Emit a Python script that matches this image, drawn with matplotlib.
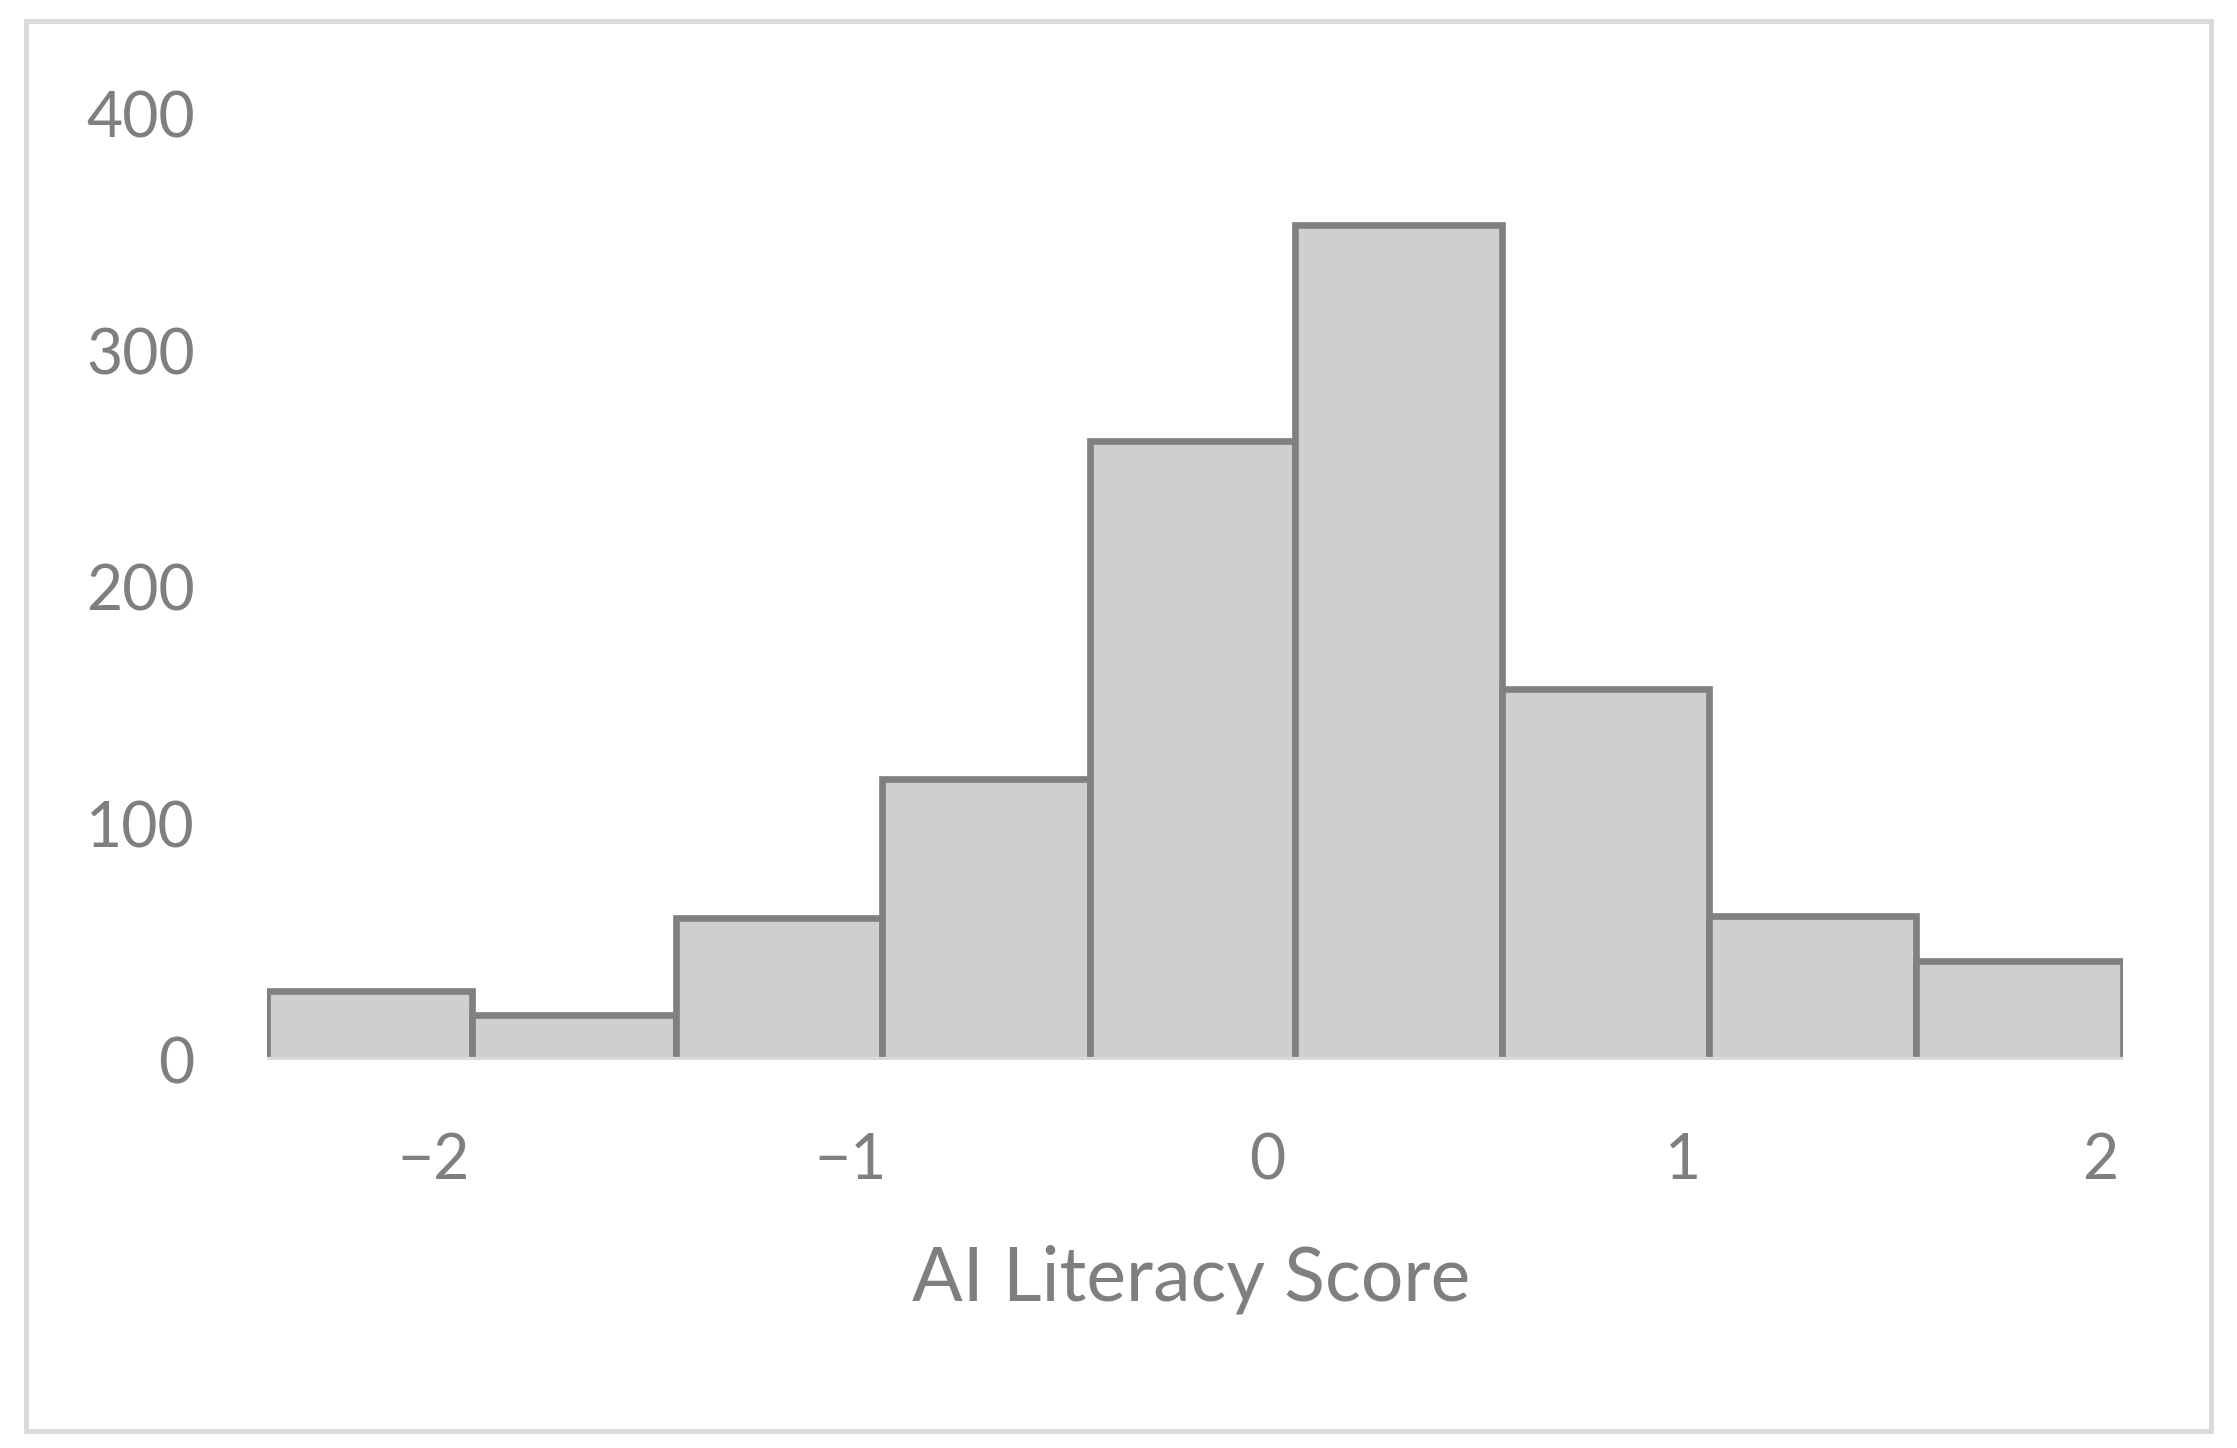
import numpy as np
import matplotlib.pyplot as plt
from matplotlib.patches import Rectangle

# histogram bins
bin_edges = [-2.401, -1.908, -1.418, -0.925, -0.425, 0.068, 0.565, 1.062, 1.558, 2.055]
counts = [29, 19, 60, 119, 262, 353, 157, 61, 42]
x_ticks = [-2, -1, 0, 1, 2]
x_tick_labels = ["\u22122", "\u22121", "0", "1", "2"]
y_ticks = [0, 100, 200, 300, 400]

plt.rcParams['font.family'] = ['Lato', 'DejaVu Sans']
text_col = '#7f7f7f'

fig = plt.figure(figsize=(22.37, 14.48), dpi=100)
ax = fig.add_axes([0.1193, 0.268, 0.8297, 0.653])

widths = np.diff(bin_edges)
ax.bar(bin_edges[:-1], counts, width=widths, align='edge',
       color='#d0cfcd', edgecolor='#808080', linewidth=4.8, zorder=2)
ax.axhline(0, color='#d9d9d9', linewidth=4.5, zorder=3)

ax.set_xlim(bin_edges[0], bin_edges[-1])
ax.set_ylim(0, 400)
ax.set_xticks(x_ticks)
ax.set_xticklabels(x_tick_labels)
ax.set_yticks(y_ticks)
ax.tick_params(axis='both', length=0, labelsize=45, colors=text_col)
ax.tick_params(axis='x', pad=52)
ax.tick_params(axis='y', pad=52)
for s in ax.spines.values():
    s.set_visible(False)

ax.set_xlabel("AI Literacy Score", fontsize=54, color=text_col, va='center')
ax.xaxis.set_label_coords(0.498, -0.232)

# outer chart border
fig.patches.append(Rectangle((0.0116, 0.0117), 0.9768, 0.9738, transform=fig.transFigure,
                             fill=False, edgecolor='#d9d9d9', linewidth=3.5))

fig.savefig('out.png', dpi=100)
